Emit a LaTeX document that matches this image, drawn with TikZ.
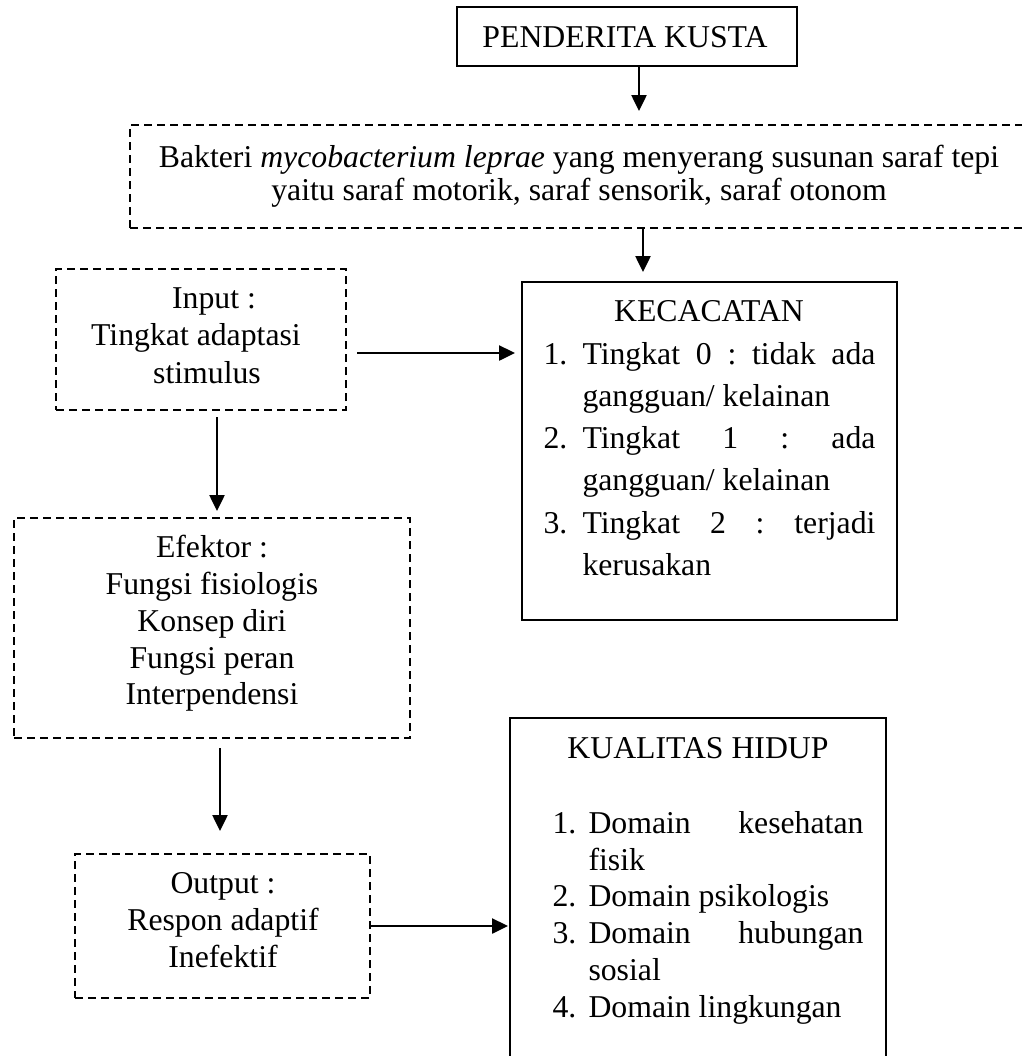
\documentclass[tikz,border=0pt]{standalone}
\usepackage{fontspec}
\setmainfont{Liberation Serif}
\usetikzlibrary{arrows.meta,fit}
\frenchspacing
\begin{document}
\begin{tikzpicture}[x=0.4pt,y=-0.4pt,
  solidbox/.style={draw,line width=0.8pt,inner sep=0pt},
  dashbox/.style={draw,line width=0.8pt,inner sep=0pt,dash pattern=on 3.2pt off 2pt},
  txt/.style={anchor=base,inner sep=0pt,font=\fontsize{12.7pt}{15pt}\selectfont\frenchspacing},
  txtl/.style={anchor=base west,inner sep=0pt,font=\fontsize{12.7pt}{15pt}\selectfont\frenchspacing},
  arr/.style={-{Triangle[length=6.4pt,width=6pt]},line width=1pt}]
\useasboundingbox (0,0) rectangle (1022,1056);

% boxes
\node[solidbox,fit={(457,7)(797,66)}] (pk) {};
\node[dashbox,fit={(130,125)(1045,228)}] (bak) {};
\node[solidbox,fit={(522,282)(897,620)}] (kec) {};
\node[dashbox,fit={(56,269)(346,410)}] (inp) {};
\node[dashbox,fit={(14,518)(410,738)}] (ef) {};
\node[dashbox,fit={(75,854)(370,998)}] (out) {};
\node[solidbox,fit={(510,718)(886,1075)}] (kual) {};

% texts
\node[txt] (tpk) at (625,47) {PENDERITA KUSTA};
\node[txt] (tb1) at (579,167) {Bakteri \textit{mycobacterium leprae} yang menyerang susunan saraf tepi};
\node[txt] (tb2) at (579,200) {yaitu saraf motorik, saraf sensorik, saraf otonom};

\node[txt] (ti1) at (214,308) {Input :};
\node[txt] (ti2) at (196,345) {Tingkat adaptasi};
\node[txt] (ti3) at (207,383) {stimulus};

\node[txt] (te1) at (212,557) {Efektor :};
\node[txt] (te2) at (212,594) {Fungsi fisiologis};
\node[txt] (te3) at (212,631) {Konsep diri};
\node[txt] (te4) at (212,668) {Fungsi peran};
\node[txt] (te5) at (212,704) {Interpendensi};

\node[txt] (to1) at (223,893) {Output :};
\node[txt] (to2) at (223,930) {Respon adaptif};
\node[txt] (to3) at (223,967) {Inefektif};

\node[txt] (tk0) at (709,321) {KECACATAN};
\node[txtl] (tkn1) at (543,364) {1.};
\node[txtl] (tk1) at (582,364) {\makebox[117.2pt][s]{Tingkat 0 : tidak ada}};
\node[txtl] (tk2) at (582,406) {gangguan/ kelainan};
\node[txtl] (tkn3) at (543,448) {2.};
\node[txtl] (tk3) at (582,448) {\makebox[117.2pt][s]{Tingkat 1 : ada}};
\node[txtl] (tk4) at (582,490) {gangguan/ kelainan};
\node[txtl] (tkn5) at (543,533) {3.};
\node[txtl] (tk5) at (582,533) {\makebox[117.2pt][s]{Tingkat 2 : terjadi}};
\node[txtl] (tk6) at (582,575) {kerusakan};

\node[txt] (tq0) at (698,758) {KUALITAS HIDUP};
\node[txtl] (tqn1) at (552,833) {1.};
\node[txtl] (tq1) at (588,833) {\makebox[110pt][s]{Domain kesehatan}};
\node[txtl] (tq2) at (588,870) {fisik};
\node[txtl] (tqn3) at (552,906) {2.};
\node[txtl] (tq3) at (588,906) {Domain psikologis};
\node[txtl] (tqn4) at (552,943) {3.};
\node[txtl] (tq4) at (588,943) {\makebox[110pt][s]{Domain hubungan}};
\node[txtl] (tq5) at (588,980) {sosial};
\node[txtl] (tqn6) at (552,1017) {4.};
\node[txtl] (tq6) at (588,1017) {Domain lingkungan};

% arrow coordinates
\coordinate (x1) at (639,0);
\coordinate (x2) at (643,0);
\coordinate (y3) at (0,353);
\coordinate (x4) at (217,0);
\coordinate (x5) at (220,0);
\coordinate (y6) at (0,926);

% connectors
\draw[arr,shorten >=5.2pt] (pk.south -| x1) -- (bak.north -| x1);
\draw[arr,shorten >=3.6pt] (bak.south -| x2) -- (kec.north -| x2);
\draw[arr,shorten <=4pt,shorten >=2.4pt] (inp.east |- y3) -- (kec.west |- y3);
\draw[arr,shorten <=2.4pt,shorten >=2.4pt] (inp.south -| x4) -- (ef.north -| x4);
\draw[arr,shorten <=3.6pt,shorten >=8.8pt] (ef.south -| x5) -- (out.north -| x5);
\draw[arr,shorten >=0.4pt] (out.east |- y6) -- (kual.west |- y6);
\end{tikzpicture}
\end{document}
